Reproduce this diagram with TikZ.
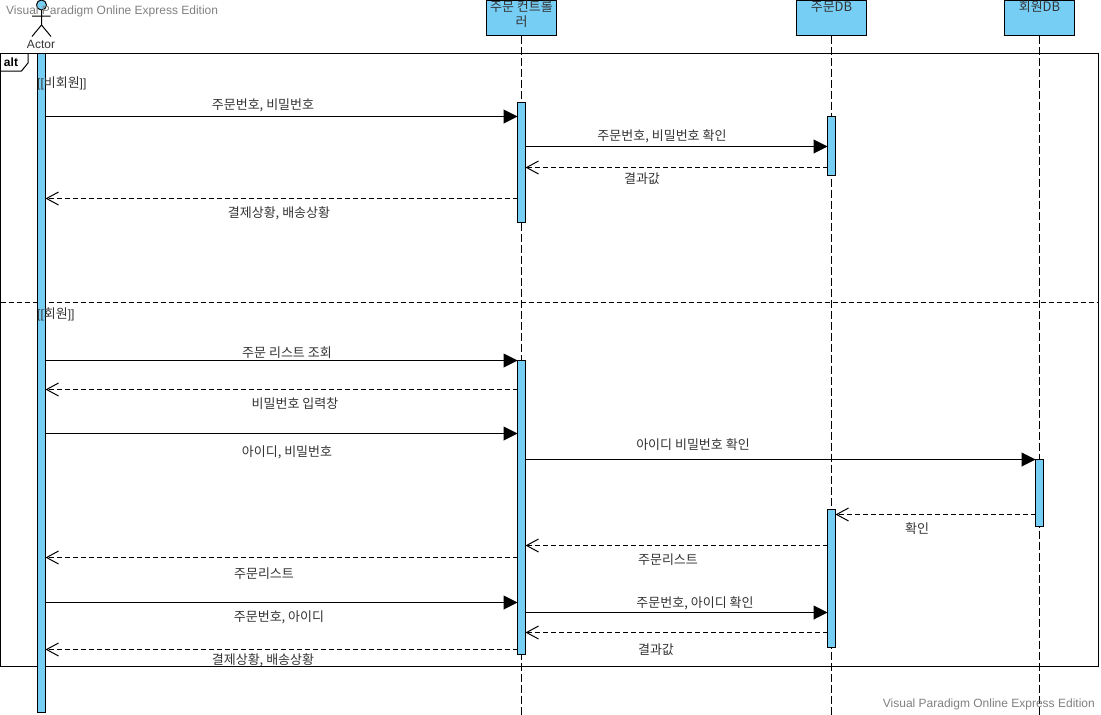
\documentclass[tikz,border=0pt]{standalone}
\usepackage{fontspec}
\setmainfont{Liberation Sans}
\newfontfamily\krfont{Noto Sans CJK KR}
\usetikzlibrary{arrows.meta}
\usetikzlibrary{positioning}
\definecolor{lifeblue}{HTML}{76CEF5}
\tikzset{
	bar/.style={draw, fill=lifeblue, line width=1pt, minimum width=8pt, minimum height=#1, inner sep=0pt, outer sep=0pt, anchor=north},
	headbox/.style={draw, fill=lifeblue, line width=1pt, minimum width=70pt, minimum height=35pt, inner sep=0pt, outer sep=0pt, anchor=north},
	lifeline/.style={line width=1pt, dash pattern=on 8pt off 3pt},
	call/.style={line width=1pt, -{Triangle[length=14pt,width=14pt]}},
	reply/.style={line width=1pt, dash pattern=on 5pt off 3pt, -{Straight Barb[length=12pt,width=13pt]}},
	msg/.style={font=\krfont\fontsize{13}{15}\selectfont, text=black!80, inner sep=0pt, align=center},
	water/.style={font=\fontsize{12}{14}\selectfont, text=black!50, inner sep=0pt}
}
\begin{document}
\begin{tikzpicture}[x=1pt,y=-1pt]
	\useasboundingbox (0,0) rectangle (1101,715);
	% draw frame
	\node[draw, line width=1pt, minimum width=1098pt, minimum height=613pt, inner sep=0pt, outer sep=0pt, anchor=north west] (altframe) at (0.5,53.5) {};
	\coordinate (split) at (0,302.5);
	\draw[line width=1pt, dash pattern=on 5pt off 3pt] (altframe.west |- split) -- (altframe.east |- split);
	\coordinate (tabA) at (28,53.5);
	\coordinate (tabB) at (28,63);
	\coordinate (tabC) at (21.5,71);
	\coordinate (tabD) at (0.5,71);
	\draw[line width=1pt] (tabA) -- (tabB) -- (tabC) -- (tabD);
	\node[inner sep=0pt, font=\bfseries\fontsize{12}{14}\selectfont] (alttext) at (11,62) {alt};
	% draw heads
	\node[headbox] (ctrl) at (521.5,0.5) {};
	\node[headbox] (orderdb) at (831.5,0.5) {};
	\node[headbox] (memberdb) at (1039.5,0.5) {};
	\node[msg] (ctrltext) at (521.5,14) {주문 컨트롤\\러};
	\node[msg] (orderdbtext) at (831.5,7) {주문DB};
	\node[msg] (memberdbtext) at (1039.5,7) {회원DB};
	% draw lifelines
	\coordinate (lineend) at (0,715);
	\draw[lifeline] (ctrl.south) -- (ctrl.south |- lineend);
	\draw[lifeline] (orderdb.south) -- (orderdb.south |- lineend);
	\draw[lifeline] (memberdb.south) -- (memberdb.south |- lineend);
	% draw actor
	\node[circle, draw, fill=lifeblue, line width=1pt, minimum size=10pt, inner sep=0pt, outer sep=0pt] (head) at (41.5,5) {};
	\coordinate (hip) at (41.5,25);
	\coordinate (armL) at (32,16);
	\coordinate (armR) at (50.5,16);
	\coordinate (footL) at (32,36.5);
	\coordinate (footR) at (51,36.5);
	\draw[line width=1pt] (head.south) -- (hip) (armL) -- (armR) (footL) -- (hip) -- (footR);
	\node[inner sep=0pt, font=\fontsize{12}{14}\selectfont, text=black!80] (actortext) at (41,44) {Actor};
	% draw bars
	\node[bar=659pt] (actorbar) at (41.5,53.5) {};
	\node[bar=120pt] (ctrlA) at (521.5,102.5) {};
	\node[bar=294pt] (ctrlB) at (521.5,360.5) {};
	\node[bar=59pt] (orderA) at (831.5,116.5) {};
	\node[bar=138pt] (orderB) at (831.5,509.5) {};
	\node[bar=67pt] (memberA) at (1039.5,459.5) {};
	% guards go over the actor bar
	\node[msg, anchor=west] (nonmember) at (37,83) {{\rmfamily\fontsize{12}{15}\selectfont [[}비회원{\rmfamily\fontsize{12}{15}\selectfont ]]}};
	\node[msg, anchor=west] (member) at (37,314) {{\rmfamily\fontsize{12}{15}\selectfont [[}회원{\rmfamily\fontsize{12}{15}\selectfont ]]}};
	% rows of messages
	\coordinate (r1) at (0,116.5);
	\coordinate (r2) at (0,146.5);
	\coordinate (r3) at (0,167.5);
	\coordinate (r4) at (0,198.5);
	\coordinate (r5) at (0,360.5);
	\coordinate (r6) at (0,389.5);
	\coordinate (r7) at (0,433.5);
	\coordinate (r8) at (0,459.5);
	\coordinate (r9) at (0,514.5);
	\coordinate (r10) at (0,545.5);
	\coordinate (r11) at (0,557.5);
	\coordinate (r12) at (0,602.5);
	\coordinate (r13) at (0,612.5);
	\coordinate (r14) at (0,632.5);
	\coordinate (r15) at (0,649.5);
	% draw messages
	\draw[call] (actorbar.east |- r1) -- (ctrlA.west |- r1);
	\draw[call] (ctrlA.east |- r2) -- (orderA.west |- r2);
	\draw[reply] (orderA.west |- r3) -- (ctrlA.east |- r3);
	\draw[reply] (ctrlA.west |- r4) -- (actorbar.east |- r4);
	\draw[call] (actorbar.east |- r5) -- (ctrlB.west |- r5);
	\draw[reply] (ctrlB.west |- r6) -- (actorbar.east |- r6);
	\draw[call] (actorbar.east |- r7) -- (ctrlB.west |- r7);
	\draw[call] (ctrlB.east |- r8) -- (memberA.west |- r8);
	\draw[reply] (memberA.west |- r9) -- (orderB.east |- r9);
	\draw[reply] (orderB.west |- r10) -- (ctrlB.east |- r10);
	\draw[reply] (ctrlB.west |- r11) -- (actorbar.east |- r11);
	\draw[call] (actorbar.east |- r12) -- (ctrlB.west |- r12);
	\draw[call] (ctrlB.east |- r13) -- (orderB.west |- r13);
	\draw[reply] (orderB.west |- r14) -- (ctrlB.east |- r14);
	\draw[reply] (ctrlB.west |- r15) -- (actorbar.east |- r15);
	% add labels
	\node[msg] (m1) at (263,105) {주문번호, 비밀번호};
	\node[msg] (m2) at (662,136) {주문번호, 비밀번호 확인};
	\node[msg] (m3) at (642,179) {결과값};
	\node[msg] (m4) at (279,213) {결제상황, 배송상황};
	\node[msg] (m5) at (287,353) {주문 리스트 조회};
	\node[msg] (m6) at (295,404) {비밀번호 입력창};
	\node[msg] (m7) at (287,452) {아이디, 비밀번호};
	\node[msg] (m8) at (693,445) {아이디 비밀번호 확인};
	\node[msg] (m9) at (917,529) {확인};
	\node[msg] (m10) at (668,560) {주문리스트};
	\node[msg] (m11) at (264,574) {주문리스트};
	\node[msg] (m12) at (279,617) {주문번호, 아이디};
	\node[msg] (m13) at (695,603) {주문번호, 아이디 확인};
	\node[msg] (m14) at (656,650) {결과값};
	\node[msg] (m15) at (263,660) {결제상황, 배송상황};
	% watermarks
	\node[water, anchor=west] (markA) at (6,11) {Visual Paradigm Online Express Edition};
	\node[water, anchor=east] (markB) at (1095,704.5) {Visual Paradigm Online Express Edition};
\end{tikzpicture}
\end{document}
